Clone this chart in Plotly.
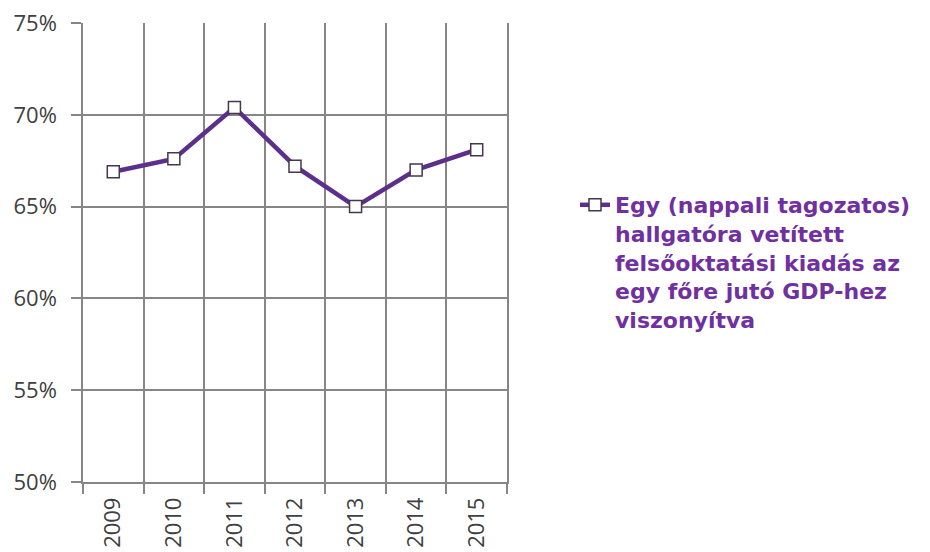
import plotly.graph_objects as go

years = ["2009", "2010", "2011", "2012", "2013", "2014", "2015"]
ratio = [0.669, 0.676, 0.704, 0.672, 0.650, 0.670, 0.681]
series_name = ("Egy (nappali tagozatos)<br>hallgatóra vetített<br>felsőoktatási kiadás az"
               "<br>egy főre jutó GDP-hez<br>viszonyítva")

grid = "#868686"
tick_font = dict(family="Open Sans", size=22, color="#404040")

fig = go.Figure()
fig.add_trace(go.Scatter(
    x=years, y=ratio, mode="lines+markers", name=series_name,
    line=dict(color="#5b2f8c", width=4.5),
    marker=dict(symbol="square", size=12, color="white",
                line=dict(color="#45374f", width=1.5)),
))

fig.update_layout(
    width=930, height=552,
    margin=dict(l=83, r=423, t=23, b=70),
    paper_bgcolor="white", plot_bgcolor="white",
    font=tick_font,
    showlegend=True,
    legend=dict(
        xref="container", yref="container", x=575 / 930, y=1 - 184 / 552,
        xanchor="left", yanchor="top", valign="top",
        font=dict(family="DejaVu Sans", size=22, color="#7030a0", weight="bold"),
        bgcolor="rgba(0,0,0,0)", tracegroupgap=0, itemwidth=30,
    ),
    xaxis=dict(
        type="category", tickson="boundaries", ticks="outside", ticklen=10,
        tickcolor=grid, tickwidth=1.5, tickangle=-90,
        showgrid=True, gridcolor=grid, gridwidth=1.5,
        showline=True, linecolor=grid, linewidth=1.5,
        range=[-0.5, 6.5], tickfont=tick_font, automargin=False,
        ticklabelstandoff=5,
    ),
    yaxis=dict(
        range=[0.5, 0.75], dtick=0.05, tickformat=".0%",
        ticks="outside", ticklen=10, tickcolor=grid, tickwidth=1.5,
        showgrid=True, gridcolor=grid, gridwidth=1.5,
        showline=True, linecolor=grid, linewidth=1.5, mirror=True,
        zeroline=False, ticklabelstandoff=10, automargin=False,
        tickfont=tick_font,
    ),
)

fig.write_html("out.html", config={"displayModeBar": False},
               post_script="document.body.style.margin='0';")
